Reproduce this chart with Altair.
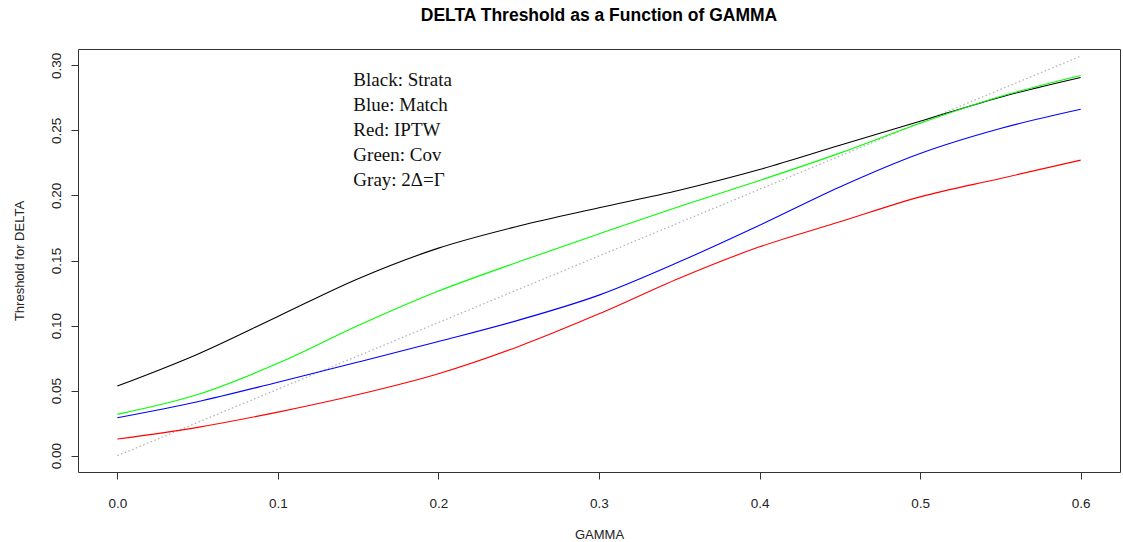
import altair as alt
import pandas as pd

# GAMMA grid and DELTA thresholds for each method
gamma = [0.00, 0.05, 0.10, 0.15, 0.20, 0.25, 0.30, 0.35, 0.40, 0.45, 0.50, 0.55, 0.60]
strata = [0.0535, 0.0780, 0.1070, 0.1360, 0.1595, 0.1765, 0.1905, 0.2040, 0.2199, 0.2385, 0.2570, 0.2755, 0.2906]
match = [0.0292, 0.0415, 0.0565, 0.0720, 0.0878, 0.1042, 0.1234, 0.1490, 0.1771, 0.2065, 0.2322, 0.2514, 0.2662]
iptw = [0.0128, 0.0218, 0.0335, 0.0470, 0.0630, 0.0840, 0.1090, 0.1364, 0.1605, 0.1797, 0.1989, 0.2130, 0.2271]
cov = [0.0318, 0.0470, 0.0710, 0.1000, 0.1265, 0.1490, 0.1705, 0.1915, 0.2115, 0.2325, 0.2555, 0.2760, 0.2921]

# reference line 2*DELTA = GAMMA
ref_gamma = [0.0, 0.6]
ref_delta = [0.0, 0.307]

# annotation text block
note_lines = ["Black: Strata", "Blue: Match", "Red: IPTW", "Green: Cov", "Gray: 2\u0394=\u0393"]
note_x = [0.147] * 5
note_y = [0.2885, 0.2693, 0.2501, 0.2309, 0.2117]

x_ticks = [0.0, 0.1, 0.2, 0.3, 0.4, 0.5, 0.6]
y_ticks = [0.00, 0.05, 0.10, 0.15, 0.20, 0.25, 0.30]

methods = ["Strata", "Match", "IPTW", "Cov"]
colors = ["#000000", "#0000FF", "#FF0000", "#00FF00"]

rows = []
for name, vals in zip(methods, [strata, match, iptw, cov]):
    for g, d in zip(gamma, vals):
        rows.append({"gamma": g, "delta": d, "method": name})
curves = pd.DataFrame(rows)
ref = pd.DataFrame({"gamma": ref_gamma, "delta": ref_delta})
notes = pd.DataFrame({"x": note_x, "y": note_y, "label": note_lines})

font = "Liberation Sans"
x_scale = alt.Scale(domain=[-0.0245, 0.6245], nice=False, zero=False)
y_scale = alt.Scale(domain=[-0.0125, 0.3125], nice=False, zero=False)

x_axis = alt.Axis(
    values=x_ticks, format=".1f", title="GAMMA", grid=False, domain=False,
    tickSize=7, tickColor="#333333", labelFont=font, labelFontSize=13.5,
    labelColor="#222222", labelPadding=17, titleFont=font, titleFontSize=13,
    titleFontWeight="normal", titleColor="#222222", titlePadding=19,
)
y_axis = alt.Axis(
    values=y_ticks, format=".2f", title="Threshold for DELTA", grid=False,
    domain=False, tickSize=7, tickColor="#333333", labelFont=font,
    labelFontSize=13.5, labelColor="#222222", labelAngle=270,
    labelAlign="center", labelBaseline="bottom", labelPadding=8,
    titleFont=font, titleFontSize=13, titleFontWeight="normal",
    titleColor="#222222", titlePadding=23,
)

lines = alt.Chart(curves).mark_line(strokeWidth=1.1, interpolate="monotone").encode(
    x=alt.X("gamma:Q", scale=x_scale, axis=x_axis),
    y=alt.Y("delta:Q", scale=y_scale, axis=y_axis),
    color=alt.Color("method:N", scale=alt.Scale(domain=methods, range=colors), legend=None),
    detail="method:N",
)

ref_line = alt.Chart(ref).mark_line(
    color="#B4B4B4", strokeWidth=1.3, strokeDash=[1.5, 2.5]
).encode(
    x=alt.X("gamma:Q", scale=x_scale),
    y=alt.Y("delta:Q", scale=y_scale),
)

note_text = alt.Chart(notes).mark_text(
    align="left", baseline="middle", font="Liberation Serif", fontSize=19, color="#111111"
).encode(
    x=alt.X("x:Q", scale=x_scale),
    y=alt.Y("y:Q", scale=y_scale),
    text="label:N",
)

chart = (
    alt.layer(ref_line, lines, note_text)
    .properties(
        width=1042,
        height=423,
        autosize=alt.AutoSizeParams(type="none"),
        padding={"left": 78, "top": 49, "right": 3, "bottom": 70},
        title=alt.TitleParams(
            "DELTA Threshold as a Function of GAMMA",
            font=font, fontSize=17.5, fontWeight="bold", color="#000000",
            anchor="middle", offset=25,
        ),
        background="white",
    )
    .configure_view(stroke="#333333", strokeWidth=1)
)

chart.save("out.html", embed_options={"renderer": "svg", "actions": False})
